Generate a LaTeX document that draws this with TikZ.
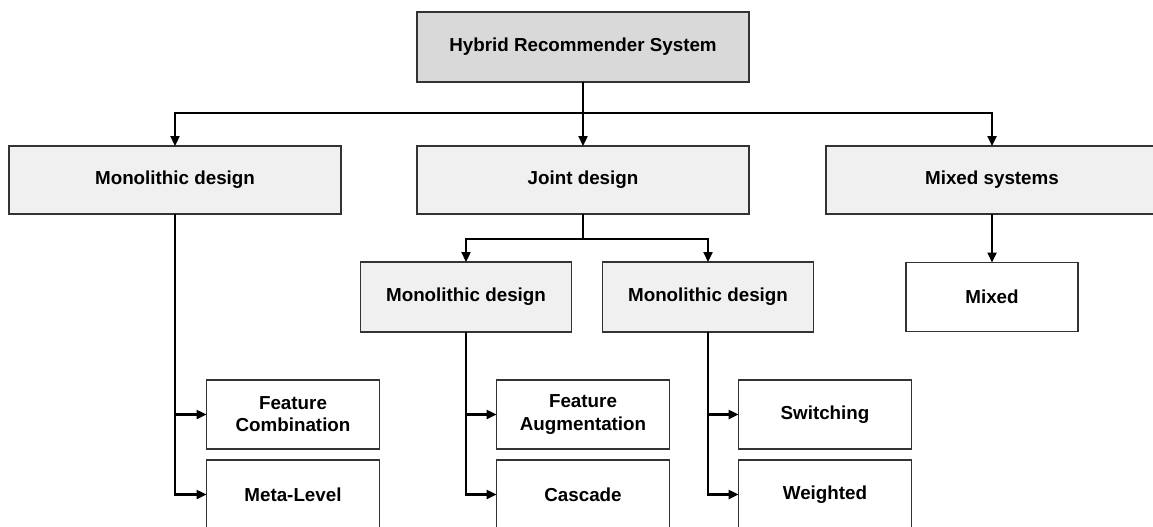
\documentclass[tikz,border=0pt]{standalone}
\usepackage{fontspec}
\setmainfont{Liberation Sans}
\usetikzlibrary{arrows.meta}

\definecolor{rootgray}{HTML}{D9D9D9}
\definecolor{boxgray}{HTML}{F0F0F0}
\definecolor{edgegray}{HTML}{333333}

\tikzset{
    box/.style={draw=edgegray, line width=0.7pt, fill=white, inner sep=0pt, outer sep=0pt,
        align=center, font=\fontsize{10.7}{12.6}\selectfont\bfseries},
    rootbox/.style={box, fill=rootgray, minimum width=6.64cm, minimum height=1.40cm},
    groupbox/.style={box, fill=boxgray, minimum width=6.64cm, minimum height=1.36cm},
    subbox/.style={box, fill=boxgray, minimum width=4.22cm, minimum height=1.40cm},
    leafbox/.style={box, minimum width=3.46cm, minimum height=1.38cm},
    link/.style={line width=1.3pt, -{Triangle[length=0.2cm, width=0.18cm]}},
    bare/.style={line width=1.3pt}
}

\begin{document}
\begin{tikzpicture}[x=0.02cm, y=-0.02cm]
        \useasboundingbox (0,0) rectangle (1153,527);
        \clip (0,0) rectangle (1153,527);

        % Blocks
        \node[rootbox]  (hrs)    at (583,47)  {Hybrid Recommender System};
        \node[groupbox] (mono)   at (175,180) {Monolithic design};
        \node[groupbox] (joint)  at (583,180) {Joint design};
        \node[groupbox] (mixsys) at (992,180) {Mixed systems};

        \node[subbox] (jmonoA) at (466,297) {Monolithic design};
        \node[subbox] (jmonoB) at (708,297) {Monolithic design};
        \node[leafbox, minimum width=3.44cm] (mixed) at (992,297) {Mixed};

        \node[leafbox] (fcomb) at (293,414.5) {Feature\\Combination};
        \node[leafbox] (meta)  at (293,494.5) {Meta-Level};
        \node[leafbox] (faug)  at (583,414.5) {Feature\\Augmentation};
        \node[leafbox] (casc)  at (583,494.5) {Cascade};
        \node[leafbox] (swit)  at (825,414.5) {Switching};
        \node[leafbox] (weig)  at (825,494.5) {Weighted};

        % Branch points
        \coordinate (bus)  at (583,113);
        \coordinate (jbus) at (583,239);

        % Connectors
        \draw[bare] (hrs) -- (bus);
        \draw[link] (bus) -| (mono);
        \draw[link] (bus) -- (joint);
        \draw[link] (bus) -| (mixsys);

        \draw[bare] (joint) -- (jbus);
        \draw[link] (jbus) -| (jmonoA);
        \draw[link] (jbus) -| (jmonoB);
        \draw[link] (mixsys) -- (mixed);

        \draw[link] (mono.south) |- (fcomb);
        \draw[link] (mono.south) |- (meta);
        \draw[link] (jmonoA.south) |- (faug);
        \draw[link] (jmonoA.south) |- (casc);
        \draw[link] (jmonoB.south) |- (swit);
        \draw[link] (jmonoB.south) |- (weig);
    \end{tikzpicture}
\end{document}
